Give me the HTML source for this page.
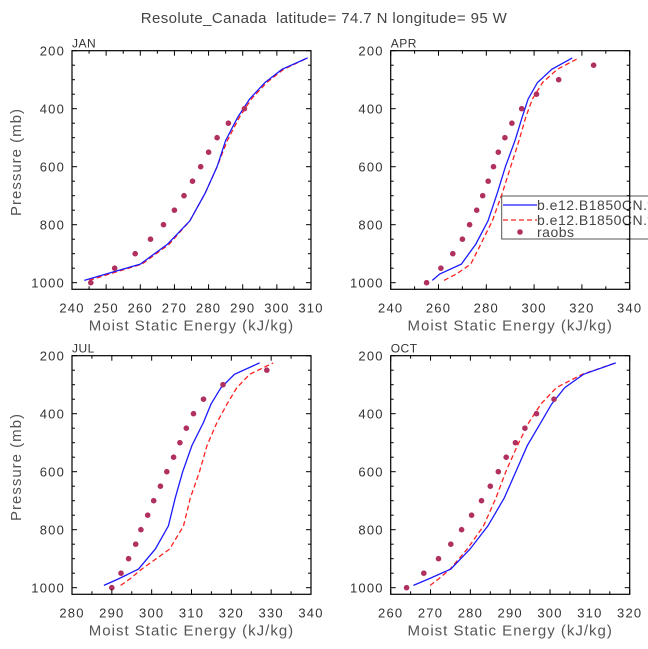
<!DOCTYPE html>
<html><head><meta charset="utf-8"><style>
html,body{margin:0;padding:0;background:#fff;}
svg{display:block;font-family:"Liberation Sans",sans-serif;}
</style></head><body>
<svg id="fig" width="648" height="649" viewBox="0 0 648 649" xmlns="http://www.w3.org/2000/svg">
<text x="324" y="23" text-anchor="middle" font-size="15" fill="#444" letter-spacing="0.4" style="white-space:pre">Resolute_Canada  latitude= 74.7 N longitude= 95 W</text>
</svg>
<script>
const modelP = [992,970,936,867,787,691,600,510,430,367,310,264,225];
const obsP = [1000,950,900,850,800,750,700,650,600,550,500,450,400,350,300,250];
const janBlue = [243.6,250,260,268,274.5,279,282.5,285,288.5,292,296.5,301.5,309];
const janRed = [245,251,260.5,268.5,274.5,279,282.5,285.5,289,292.5,297,302,309];
const janObs = [245.5,252.5,258.5,263,266.8,270,272.8,275.3,277.7,280,282.5,285.8,290.5];
const aprBlue = [257.4,260.5,269.6,275.6,280.7,284.6,288,292,295,297.5,301.4,307.4,316];
const aprRed = [262.3,267.5,273.5,277.7,282.5,286.7,290.2,293.7,296.5,299.3,303.5,309.7,318.8];
const aprObs = [255,261,266,270,273,276,278.5,280.8,283,285,287.8,290.7,294.8,301,310.3,324.9];
const julBlue = [288,291.6,296.7,300.9,304.2,305.9,307.8,310.1,313,314.9,317.4,320.8,327.1];
const julRed = [292.2,294.5,297.5,304.5,308,309.7,312,313.9,316.4,318.9,321.4,324.6,330.5];
const julObs = [290,292.3,294.2,296,297.3,299,300.5,302.2,303.8,305.5,307.1,308.7,310.5,313,317.9,328.9];
const octBlue = [265.7,269.5,275.1,279.9,284.4,288.5,291.4,294.3,297.7,300.4,303.7,308.4,316.5];
const octRed = [269.9,272,274.9,279.2,283.3,286.4,288.9,291.8,294.7,297.7,301.6,308.1,316.5];
const octObs = [264,268.3,272,275.1,277.8,280.3,282.8,285,287,289,291.3,293.7,296.6,301];
const janTicks = [240,250,260,270,280,290,300,310];
const aprTicks = [240,260,280,300,320,340];
const julTicks = [280,290,300,310,320,330,340];
const octTicks = [260,270,280,290,300,310,320];
const yTicks = [200,400,600,800,1000];

const NS="http://www.w3.org/2000/svg";
const svg=document.getElementById('fig');
function mk(tag,attrs,parent){const e=document.createElementNS(NS,tag);for(const k in attrs)e.setAttribute(k,attrs[k]);(parent||svg).appendChild(e);return e;}

const panels=[
 {id:'jan',label:'JAN',L:72,T:50.7,xmin:240,xmax:310,minor:5,ticks:janTicks,blue:janBlue,red:janRed,obs:janObs,ylab:true},
 {id:'apr',label:'APR',L:390.7,T:50.7,xmin:240,xmax:340,minor:10,ticks:aprTicks,blue:aprBlue,red:aprRed,obs:aprObs,ylab:false,legend:true},
 {id:'jul',label:'JUL',L:72,T:355.7,xmin:280,xmax:340,minor:5,ticks:julTicks,blue:julBlue,red:julRed,obs:julObs,ylab:true},
 {id:'oct',label:'OCT',L:390.7,T:355.7,xmin:260,xmax:320,minor:5,ticks:octTicks,blue:octBlue,red:octRed,obs:octObs,ylab:false}
];
const W=239, PH=238.6, pmin=200, pmax=1022.8;
panels.forEach(p=>{
  const g=mk('g',{});
  
  
  const X=v=>p.L+(v-p.xmin)/(p.xmax-p.xmin)*W;
  const Y=v=>p.T+(v-pmin)/(pmax-pmin)*PH;
  const R=p.L+W,B=p.T+PH;
  const mkLine=(vals,color,dash,name)=>{
    const pts=vals.map((v,i)=>X(v).toFixed(1)+','+Y(modelP[i]).toFixed(1)).join(' ');
    const l=mk('polyline',{points:pts,fill:'none',stroke:color,'stroke-width':1.3},g);
    if(dash)l.setAttribute('stroke-dasharray','5,3');
    
    
  };
  mkLine(p.red,'#ff2020',true,p.id+'-red-dashed-line');
  mkLine(p.blue,'#1a1aff',false,p.id+'-blue-line');
  p.obs.forEach((v,i)=>{
    const c=mk('circle',{cx:X(v).toFixed(1),cy:Y(obsP[i]).toFixed(1),r:2.8,fill:'#b03060'},g);
    
    
  });
  if(p.legend){
    const lg=mk('g',{},svg);
    
    
    mk('rect',{x:501.7,y:196,width:160,height:43,fill:'#fff',stroke:'#555','stroke-width':1},lg);
    mk('line',{x1:503,y1:205,x2:537,y2:205,stroke:'#1a1aff','stroke-width':1.3},lg);
    mk('line',{x1:503,y1:220,x2:537,y2:220,stroke:'#ff2020','stroke-width':1.3,'stroke-dasharray':'5,3'},lg);
    mk('circle',{cx:520,cy:232,r:2.8,fill:'#b03060'},lg);
    const t1=mk('text',{x:537,y:210,'font-size':14,fill:'#444','letter-spacing':0.5},lg);t1.textContent='b.e12.B1850CN.f';
    const t2=mk('text',{x:537,y:225,'font-size':14,fill:'#444','letter-spacing':0.5},lg);t2.textContent='b.e12.B1850CN.f';
    const t3=mk('text',{x:537,y:237,'font-size':14,fill:'#444','letter-spacing':0.5},lg);t3.textContent='raobs';
  }
  mk('rect',{x:p.L,y:p.T,width:W,height:PH,fill:'none',stroke:'#000','stroke-width':1.2},svg);
  for(let v=p.xmin;v<=p.xmax+1e-6;v+=p.minor){
    const major=p.ticks.includes(v);const len=major?5:3;
    mk('line',{x1:X(v),y1:B,x2:X(v),y2:B-len,stroke:'#000'},svg);
    mk('line',{x1:X(v),y1:p.T,x2:X(v),y2:p.T+len,stroke:'#000'},svg);
  }
  p.ticks.forEach(v=>{const t=mk('text',{x:X(v),y:B+23,'text-anchor':'middle','font-size':13,fill:'#333','letter-spacing':1.2},svg);t.textContent=v;
    });
  for(let v=200;v<=1000;v+=50){
    const major=yTicks.includes(v);const len=major?5:3;
    mk('line',{x1:p.L,y1:Y(v),x2:p.L+len,y2:Y(v),stroke:'#000'},svg);
    mk('line',{x1:R,y1:Y(v),x2:R-len,y2:Y(v),stroke:'#000'},svg);
  }
  yTicks.forEach(v=>{const t=mk('text',{x:p.L-7,y:Y(v)+5,'text-anchor':'end','font-size':13,fill:'#333','letter-spacing':1.2},svg);t.textContent=v;
    });
  const lab=mk('text',{x:p.L,y:p.T-3,'font-size':12,fill:'#333','letter-spacing':0.5},svg);lab.textContent=p.label;
  
  const xl=mk('text',{x:p.L+W/2,y:B+41,'text-anchor':'middle','font-size':15,fill:'#555','letter-spacing':1},svg);xl.textContent='Moist Static Energy (kJ/kg)';
  
  if(p.ylab){const yl=mk('text',{x:0,y:0,'text-anchor':'middle','font-size':15,fill:'#555','letter-spacing':1,transform:`translate(21,${p.T+PH/2-8}) rotate(-90)`},svg);yl.textContent='Pressure (mb)';
    }
});
</script>
</body></html>
